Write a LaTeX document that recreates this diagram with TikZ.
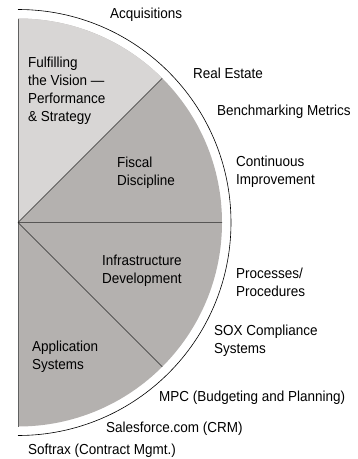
\documentclass[tikz,border=0pt]{standalone}
\usepackage{fontspec}
\setmainfont{Liberation Sans}[FakeStretch=0.93]
\usepackage{tikz}
\definecolor{pale}{RGB}{216,214,213}
\definecolor{mid}{RGB}{180,177,175}

\begin{document}
\begin{tikzpicture}[x=1pt,y=1pt,lbl/.style={anchor=west,inner sep=0pt,align=left,font=\fontsize{14.5}{18}\selectfont}]
\useasboundingbox (-18,-236.5) rectangle (340,222.5);

\coordinate (c) at (0,0); \coordinate (t) at (90:204pt); \coordinate (b) at (-90:204pt); \coordinate (d1) at (45:204pt); \coordinate (d2) at (0:204pt); \coordinate (d3) at (-45:204pt); \coordinate (ot) at (90:213pt);

\fill[mid] (b) arc[start angle=-90,end angle=90,radius=204pt] -- cycle;
\fill[pale] (c) -- (d1) arc[start angle=45,end angle=90,radius=204pt] -- cycle;
\draw[gray!75!black,line width=0.8pt] (t) -- (b);
\draw[black!85,line width=0.5pt] (c) -- (d1) (c) -- (d2) (c) -- (d3);
\draw[line width=0.6pt] (ot) arc[start angle=90,end angle=-90,radius=213pt];

\node[lbl] (vision) at (10,132) {Fulfilling\\the Vision ---\\Performance\\\& Strategy};
\node[lbl] (fiscal) at (99,50) {Fiscal\\Discipline};
\node[lbl] (infra) at (84,-48.5) {Infrastructure\\Development};
\node[lbl] (app) at (14,-134) {Application\\Systems};

\node[lbl] (acq) at (92,207.5) {Acquisitions};
\node[lbl] (real) at (175,149.5) {Real Estate};
\node[lbl] (bench) at (199,110.5) {Benchmarking Metrics};
\node[lbl] (cont) at (218,51) {Continuous\\Improvement};
\node[lbl] (proc) at (218,-60) {Processes/\\Procedures};
\node[lbl] (sox) at (196,-118.5) {SOX Compliance\\Systems};
\node[lbl] (mpc) at (141,-175.5) {MPC (Budgeting and Planning)};
\node[lbl] (sales) at (88,-206.5) {Salesforce.com (CRM)};
\node[lbl] (soft) at (10,-228.5) {Softrax (Contract Mgmt.)};
\end{tikzpicture}
\end{document}
